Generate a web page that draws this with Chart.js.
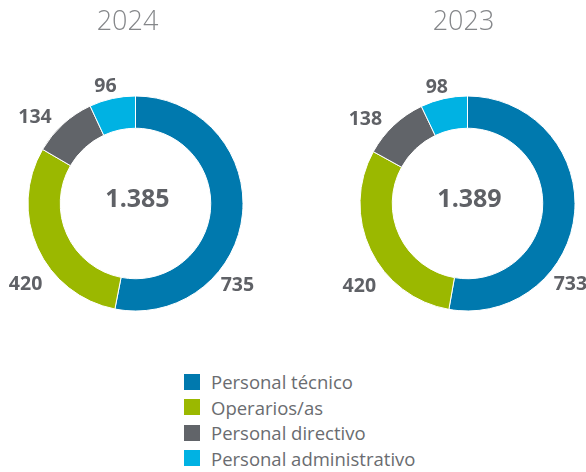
<!DOCTYPE html>
<html>
<head>
<meta charset="utf-8">
<script src="https://cdn.jsdelivr.net/npm/chart.js@4.4.1/dist/chart.umd.min.js"></script>
<style>
  body { margin: 0; background: #fff; }
  #wrap { position: relative; width: 586px; height: 472px; overflow: hidden; }
  #wrap canvas { position: absolute; top: 0; }
  #legend { position: absolute; left: 184px; top: 369px; font-family: "Open Sans", sans-serif; font-size: 18.5px; color: #6a6c70; }
  .item { display: flex; align-items: center; height: 25.5px; white-space: nowrap; }
  .box { width: 16px; height: 16px; margin-right: 11px; }
</style>
</head>
<body>
<div id="wrap">
  <canvas id="c2024" width="293" height="330" style="left:0px"></canvas>
  <canvas id="c2023" width="293" height="330" style="left:293px"></canvas>
  <div id="legend"></div>
</div>
<script>
// categories and values
const categories = ["Personal técnico", "Operarios/as", "Personal directivo", "Personal administrativo"];
const colors = ["#0079AE", "#9BB800", "#616469", "#00B2E3"];
const years = ["2024", "2023"];
const values2024 = [735, 420, 134, 96];
const values2023 = [733, 420, 138, 98];
const totals = ["1.385", "1.389"];

// where each value label sits along its slice, and how far out
const labelFrac = [0.675, 0.39, 0.30, 0.42];
const labelOff = [23.5, 29, 25, 13];

const textGray = "#5f6166";

// draws title, center total and outside labels
const decoPlugin = {
    id: 'deco',
    afterDraw(chart, args, opts) {
        const ctx = chart.ctx;
        const meta = chart.getDatasetMeta(0);
        const first = meta.data[0];
        ctx.save();
        ctx.textAlign = 'center';
        ctx.textBaseline = 'middle';

        // year title
        ctx.fillStyle = "#85878a";
        ctx.font = '300 27px "Open Sans"';
        ctx.fillText(opts.title, first.x + opts.titleShift, 22);

        // total in the middle
        ctx.fillStyle = textGray;
        ctx.font = 'bold 25px "Open Sans"';
        ctx.fillText(opts.total, first.x + 2, first.y - 4);

        // value labels
        ctx.font = 'bold 19.5px "Open Sans"';
        const data = chart.data.datasets[0].data;
        meta.data.forEach((arc, i) => {
            const a = arc.startAngle + labelFrac[i] * (arc.endAngle - arc.startAngle);
            const r = arc.outerRadius + labelOff[i];
            ctx.fillText(data[i], arc.x + r * Math.cos(a), arc.y + r * Math.sin(a));
        });
        ctx.restore();
    }
};

function makeChart(id, values, title, total, padLeft, padRight, titleShift) {
    return new Chart(document.getElementById(id), {
        type: 'doughnut',
        data: {
            labels: categories,
            datasets: [{
                data: values,
                backgroundColor: colors,
                borderColor: '#ffffff',
                borderWidth: 1
            }]
        },
        options: {
            responsive: false,
            animation: false,
            cutout: '70%',
            layout: { padding: { left: padLeft, right: padRight, top: 95.5, bottom: 18.5 } },
            plugins: {
                legend: { display: false },
                tooltip: { enabled: false },
                deco: { title: title, total: total, titleShift: titleShift }
            }
        },
        plugins: [decoPlugin]
    });
}

makeChart('c2024', values2024, years[0], totals[0], 27.5, 49.5, -8);
makeChart('c2023', values2023, years[1], totals[1], 66.5, 10.5, -4);

// legend
const legend = document.getElementById('legend');
categories.forEach((cat, i) => {
    const row = document.createElement('div');
    row.className = 'item';
    const box = document.createElement('span');
    box.className = 'box';
    box.style.background = colors[i];
    const txt = document.createElement('span');
    txt.textContent = cat;
    row.appendChild(box);
    row.appendChild(txt);
    legend.appendChild(row);
});
</script>
</body>
</html>
